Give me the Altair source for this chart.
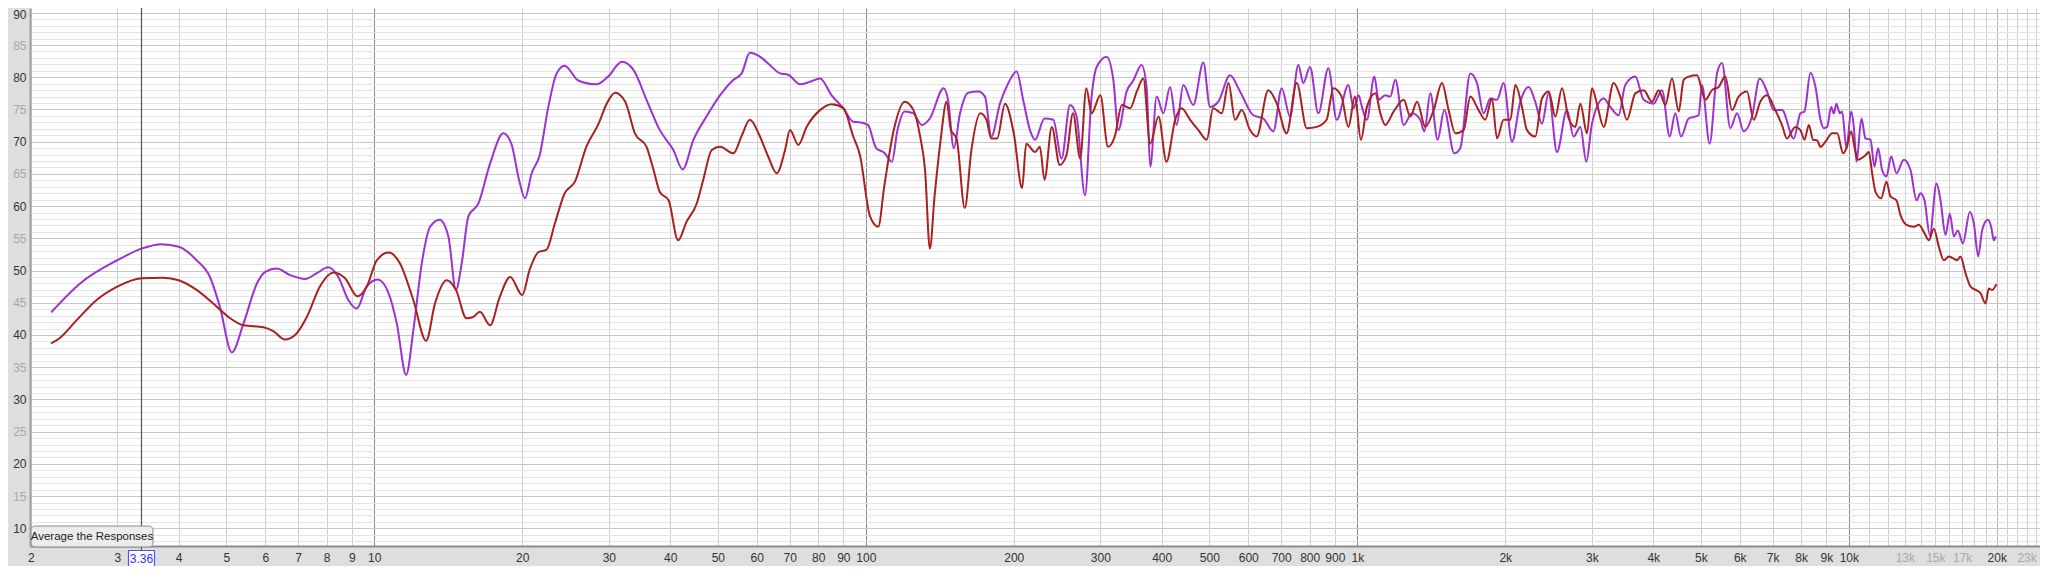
import altair as alt
import pandas as pd

# ---- measured responses (frequency in Hz, level in dB) ----
purple_freq = [2.2, 2.52, 3.0, 3.36, 3.69, 4.0, 4.35, 4.63, 4.85, 5.13, 5.42, 5.77, 6.0, 6.33, 6.74,
               7.23, 7.64, 8.06, 8.45, 8.86, 9.21, 9.65, 10.16, 10.69, 11.11, 11.61, 12.01, 12.49,
               12.99, 13.57, 14.15, 14.66, 15.06, 15.54, 16.28, 17.2, 18.3, 19.0, 19.7, 20.26, 20.9,
               21.7, 22.6, 23.5, 24.4, 26.0, 28.3, 29.9, 31.9, 33.7, 35.8, 38.1, 40.6, 42.4, 44.6,
               47.4, 50.5, 53.8, 55.9, 58.1, 60.9, 63.8, 66.9, 69.5, 73.5, 77.0, 80.7, 85.2, 90.0,
               94.3, 97.3, 101, 105, 109, 113, 116, 120, 125, 130, 135, 144, 147, 151, 155.5, 161.6,
               169.4, 174.8, 180, 187.5, 195, 202.7, 209, 215.8, 221, 231, 240.7, 250.2, 260.3,
               268.5, 279.2, 288, 294.9, 309, 318.9, 326.4, 339.4, 350.2, 364.1, 372.8, 379, 390.7,
               403.1, 415.9, 429, 442.6, 463.8, 486.1, 501.4, 521.4, 550.8, 577.2, 614.4, 643.9,
               674.8, 701.7, 729.6, 758.6, 776.6, 801.3, 833.2, 873.2, 908, 959, 983, 1006, 1022,
               1046, 1083, 1105, 1140, 1167, 1195, 1243, 1292, 1343, 1369, 1408, 1457, 1503, 1575,
               1620, 1698, 1752, 1807, 1865, 1924, 1985, 2064, 2146, 2232, 2302, 2375, 2451, 2548,
               2670, 2755, 2843, 2924, 3002, 3171, 3271, 3401, 3509, 3678, 3825, 4008, 4168, 4321,
               4436, 4556, 4722, 4948, 5026, 5210, 5393, 5521, 5741, 5924, 6112, 6353, 6586, 6816,
               7032, 7311, 7725, 7972, 8124, 8356, 8555, 8757, 8894, 9035, 9206, 9321, 9438, 9587,
               9692, 9891, 10110, 10237, 10366, 10611, 10812, 11068, 11277, 11472, 11689, 11928,
               12192, 12502, 12939, 13351, 13731, 13991, 14256, 14617, 15081, 15366, 15731, 16053,
               16356, 16667, 17061, 17632, 17966, 18333, 18680, 19180, 19483, 19724, 19910]
purple_db = [43.5, 48.0, 51.6, 53.4, 54.1, 53.7, 51.6, 49.0, 44.4, 37.3, 41.8, 48.0, 49.8, 50.3, 49.3,
             48.7, 49.6, 50.5, 49.0, 45.4, 44.1, 47.5, 48.6, 46.5, 41.8, 33.8, 40.8, 51.1,
             56.8, 57.9, 55.3, 47.0, 51.1, 58.4, 60.4, 66.6, 71.3, 69.7, 64.1, 61.2, 65.1,
             67.9, 75.4, 80.6, 81.8, 79.5, 78.9, 80.1, 82.4, 81.1, 76.5, 71.8, 68.7, 65.7, 70.3,
             73.9, 77.2, 79.6, 80.6, 83.8, 83.2, 81.9, 80.6, 80.4, 78.9, 79.3, 79.8, 77.2, 75.2,
             73.1, 73.0, 72.6, 69.0, 68.3, 66.9, 71.8, 74.7, 74.4, 72.6, 73.6, 78.3, 76.5, 69.0, 74.4, 77.6,
             77.8, 77.0, 70.8, 75.9, 79.1, 80.9, 76.5, 71.8, 70.3, 73.6, 73.4, 67.4, 75.7,
             73.9, 61.7, 77.0, 81.6, 83.2, 79.6, 71.8, 77.8, 79.5, 81.9, 78.3, 66.1, 77.0,
             74.4, 78.5, 72.6, 78.8, 75.7, 82.3, 75.4, 76.2, 80.3, 77.8, 74.1, 73.6,
             71.6, 78.3, 73.9, 81.9, 79.1, 81.6, 74.4, 81.4, 73.4, 78.8, 75.2, 77.2, 75.4,
             73.4, 80.1, 76.5, 77.2, 77.0, 79.6, 72.6, 74.4, 73.4, 71.6, 77.5, 70.3, 74.9, 68.2,
             69.0, 80.6, 79.1, 74.4, 76.7, 76.5, 79.1, 70.0, 76.2, 78.5, 76.2, 72.8, 77.5, 68.4,
             74.9, 70.8, 72.3, 66.9, 72.8, 76.7, 75.4, 74.1, 78.8, 80.1, 76.5, 75.9, 78.0, 70.8,
             74.4, 70.8, 73.6, 74.1, 78.8, 69.7, 80.6, 82.2, 72.1, 74.4, 71.6, 73.9, 79.8, 77.8,
             74.9, 74.9, 70.5, 74.4, 74.7, 80.7, 78.5, 73.4, 72.1, 72.3, 75.4, 74.4, 75.9, 74.4,
             74.7, 69.0, 74.7, 72.3, 66.9, 73.6, 70.5, 70.3, 66.1, 69.0, 65.6, 64.6,
             67.7, 65.1, 67.2, 65.6, 60.9, 62.0, 60.9, 55.5, 63.5, 60.9, 55.5, 58.8,
             55.3, 56.2, 54.2, 59.1, 57.3, 52.2, 56.3, 57.9, 56.8, 54.7, 55.3]

red_freq = [2.2, 2.29, 2.48, 2.72, 3.0, 3.36, 3.72, 4.0, 4.35, 4.78, 5.09, 5.42, 5.95, 6.23, 6.58,
            6.9, 7.29, 7.76, 8.26, 8.72, 9.24, 9.65, 10.12, 10.69, 11.28, 12.01, 12.75, 13.29,
            14.04, 14.66, 15.4, 15.9, 16.4, 17.2, 18.0, 18.9, 20.0, 20.7, 21.6, 22.4, 23.3, 24.4,
            25.6, 27.0, 28.6, 29.7, 30.9, 32.4, 33.9, 35.8, 37.0, 38.1, 39.7, 41.5, 43.2, 45.3,
            46.7, 48.6, 50.5, 53.8, 55.9, 58.1, 60.9, 63.3, 65.9, 68.5, 70.1, 72.9, 75.8, 80.7,
            85.2, 90.0, 94.3, 97.3, 102, 106, 109, 114, 120, 125, 129, 132, 135, 138, 142, 146,
            149, 153, 159, 164, 171, 176, 180, 185, 192, 200, 208, 212, 221, 226, 231, 239, 248,
            256, 264, 273, 281, 288, 300, 311, 321, 332, 345, 356, 367, 379, 394, 409, 426, 439,
            457, 475, 494, 509, 530, 547, 564, 582, 605, 624, 659, 686, 718, 753, 789, 827, 866,
            894, 929, 959, 989, 1017, 1046, 1088, 1114, 1140, 1186, 1243, 1282, 1323, 1375, 1430,
            1487, 1534, 1583, 1646, 1698, 1765, 1821, 1879, 1924, 1985, 2048, 2097, 2163, 2214,
            2302, 2375, 2451, 2529, 2609, 2692, 2777, 2843, 2933, 3002, 3073, 3171, 3323, 3428,
            3537, 3678, 3825, 3977, 4104, 4234, 4368, 4507, 4613, 4722, 4910, 5105, 5267, 5435,
            5607, 5785, 5969, 6207, 6404, 6606, 6816, 7087, 7311, 7484, 7783, 7972, 8124, 8292,
            8460, 8623, 8757, 8965, 9249, 9468, 9738, 9891, 10110, 10269, 10431, 10594, 10812,
            10982, 11155, 11332, 11637, 11928, 12155, 12502, 12740, 13100, 13560, 13882, 14256,
            14547, 14892, 15246, 15609, 15978, 16305, 16613, 16875, 17275, 17686, 18111, 18532,
            18970, 19271, 19570, 19970]
red_db = [38.7, 39.5, 42.3, 45.4, 47.5, 48.8, 48.9, 48.5, 47.0, 44.4, 42.6, 41.5, 41.2, 40.6, 39.3,
          40.0, 42.8, 47.6, 49.7, 48.8, 46.0, 47.5, 51.6, 52.8, 51.1, 45.4, 39.1, 44.9,
          48.5, 47.0, 42.6, 42.8, 43.6, 41.5, 45.9, 49.0, 46.2, 50.1, 52.9, 53.2, 57.3, 62.0,
          63.8, 69.2, 72.8, 75.9, 77.6, 76.2, 71.3, 69.2, 65.6, 62.2, 60.9, 54.7, 57.6, 60.4,
          64.1, 68.7, 69.2, 68.2, 70.9, 73.4, 70.8, 67.7, 65.1, 68.7, 71.8, 69.5, 72.3, 74.9,
          75.8, 75.2, 70.8, 67.9, 58.4, 56.8, 63.0, 71.8, 76.2, 74.9, 70.8, 65.6, 53.4, 61.5, 70.3, 76.2,
          71.8, 70.5, 59.7, 68.7, 74.4, 73.4, 70.5, 70.5, 75.9, 71.3, 62.8, 69.7, 68.4, 69.2, 64.1, 72.3, 66.4,
          67.9, 74.4, 67.4, 78.3, 74.4, 77.2, 69.2, 70.8, 75.7, 75.2, 77.8, 79.8, 69.7, 73.9, 66.9, 73.4, 75.2,
          73.4, 71.8, 70.3, 75.2, 74.4, 79.1, 73.4, 74.9, 71.8, 70.8, 78.0, 75.9, 71.3, 79.1, 72.1, 72.3, 73.4,
          78.3, 77.0, 72.3, 77.0, 70.3, 75.4, 77.5, 74.4, 72.6, 74.7, 76.5, 73.9, 76.2, 72.3, 74.9,
          79.1, 74.9, 71.3, 71.8, 77.0, 74.9, 73.4, 76.7, 70.5, 73.4, 73.4, 78.8, 75.4, 71.8,
          70.8, 76.7, 77.8, 73.9, 78.3, 73.6, 72.3, 75.9, 71.3, 78.3, 75.9, 72.3, 79.1, 77.0,
          73.4, 77.5, 78.0, 76.2, 78.0, 75.7, 79.8, 74.7, 79.6, 80.1, 80.3, 76.5, 78.0, 78.5,
          80.1, 74.9, 77.0, 77.8, 73.4, 76.2, 77.2, 74.9, 72.6, 70.5, 72.3, 71.8, 70.3, 72.6,
          70.3, 70.2, 69.2, 70.0, 71.3, 71.3, 68.2, 69.0, 71.6, 69.2, 67.2, 67.4, 67.9,
          68.4, 65.1, 62.2, 61.2, 63.8, 61.5, 60.9, 58.6, 57.1, 56.8, 57.1, 55.8,
          54.7, 56.5, 53.7, 51.6, 52.2, 51.9, 51.6, 52.2, 49.6, 47.5, 47.0, 46.5,
          44.9, 47.2, 47.0, 47.9]

# ---- axis ticks / grid ----
x_grid = [2, 3, 4, 5, 6, 7, 8, 9, 10, 20, 30, 40, 50, 60, 70, 80, 90, 100, 200, 300, 400, 500,
          600, 700, 800, 900, 1000, 2000, 3000, 4000, 5000, 6000, 7000, 8000, 9000, 10000,
          11000, 12000, 13000, 14000, 15000, 16000, 17000, 18000, 19000, 20000, 21000, 22000,
          23000, 24000]
x_unlabeled = [11000, 12000, 14000, 16000, 18000, 19000, 21000, 22000, 24000]
x_light_labels = [13000, 15000, 17000, 23000]
x_decades = [10, 100, 1000, 10000]
y_grid = list(range(8, 91))
cursor_freq = 3.36

X_DOMAIN = [1.993, 24490]
Y_DOMAIN = [7.25, 90.75]

df = pd.concat([
    pd.DataFrame({"freq": purple_freq, "db": purple_db, "trace": "A"}),
    pd.DataFrame({"freq": red_freq, "db": red_db, "trace": "B"}),
])

FONT = "Liberation Sans"

xscale = alt.Scale(type="log", domain=X_DOMAIN, nice=False)
yscale = alt.Scale(domain=Y_DOMAIN, nice=False, zero=False)

x_labels_expr = (
    f"indexof({x_unlabeled}, datum.value) >= 0 ? '' : "
    "(datum.value >= 1000 ? (datum.value / 1000) + 'k' : '' + datum.value)"
)

xaxis = alt.Axis(
    values=x_grid, title=None, ticks=False, labelExpr=x_labels_expr,
    labelOverlap=False, labelFlush=False, labelPadding=6, labelFont=FONT,
    labelFontSize=12,
    labelColor=alt.ExprRef(f"indexof({x_light_labels}, datum.value) >= 0 ? '#a8a8a8' : '#333333'"),
    grid=True,
    gridColor=alt.ExprRef(
        f"indexof({x_decades}, datum.value) >= 0 ? '#8a8a8a' : (datum.value == 20000 ? '#b4b4b4' : '#d0d0d0')"),
    gridWidth=1, domainColor="#8c8c8c", domainWidth=2,
)
yaxis = alt.Axis(
    values=y_grid, title=None, ticks=False,
    labelExpr="datum.value % 5 == 0 ? datum.value : ''",
    labelOverlap=False, labelFlush=False, labelPadding=4, labelFont=FONT,
    labelFontSize=12,
    labelOffset=alt.ExprRef("datum.value == 90 ? 2 : 0"),
    labelColor=alt.ExprRef("datum.value % 10 == 0 ? '#333333' : '#a8a8a8'"),
    grid=True,
    gridColor=alt.ExprRef("datum.value % 5 == 0 ? '#c8c8c8' : '#e4e4e4'"),
    gridWidth=1, domainColor="#a0a0a0", domainWidth=2,
)

base = alt.Chart(df)

lines = base.mark_line(interpolate="monotone", strokeWidth=2, clip=True).encode(
    x=alt.X("freq:Q", scale=xscale, axis=xaxis),
    y=alt.Y("db:Q", scale=yscale, axis=yaxis),
    color=alt.Color("trace:N", scale=alt.Scale(domain=["A", "B"], range=["#9e31d4", "#a8211f"]),
                    legend=None),
    order=alt.Order("freq:Q"),
    detail="trace:N",
)

one = alt.Data(values=[{"f": cursor_freq}])

cursor = alt.Chart(one).mark_rule(color="#555555", strokeWidth=1.2).encode(
    x=alt.X("f:Q", scale=xscale),
    y=alt.value(0), y2=alt.value(543),
)
cursor_box = alt.Chart(one).mark_rect(width=26, height=17, fill="white", stroke="#5050ff",
                                      strokeWidth=1.2).encode(
    x=alt.X("f:Q", scale=xscale), y=alt.value(551),
)
cursor_text = alt.Chart(one).mark_text(color="#3030ff", font=FONT, fontSize=12,
                                       baseline="middle", align="center").encode(
    x=alt.X("f:Q", scale=xscale), y=alt.value(551),
    text=alt.value("3.36"),
)

btn = alt.Chart(alt.Data(values=[{}])).mark_rect(
    cornerRadius=4, fill="#ececec", stroke="#8c8c8c", strokeWidth=1).encode(
    x=alt.value(1), x2=alt.value(123), y=alt.value(518), y2=alt.value(539))
btn_text = alt.Chart(alt.Data(values=[{}])).mark_text(
    font=FONT, fontSize=11.5, color="#222222", align="center", baseline="middle").encode(
    x=alt.value(62), y=alt.value(529), text=alt.value("Average the Responses"))

chart = alt.layer(lines, cursor, btn, btn_text, cursor_box, cursor_text).properties(
    width=2010, height=538,
    autosize=alt.AutoSizeParams(type="none"),
    padding={"left": 22, "top": 0, "right": 0, "bottom": 20},
    background="#dedede",
).configure_view(fill="white", stroke=None)

chart.save("out.html", embed_options={"renderer": "svg", "actions": False})
